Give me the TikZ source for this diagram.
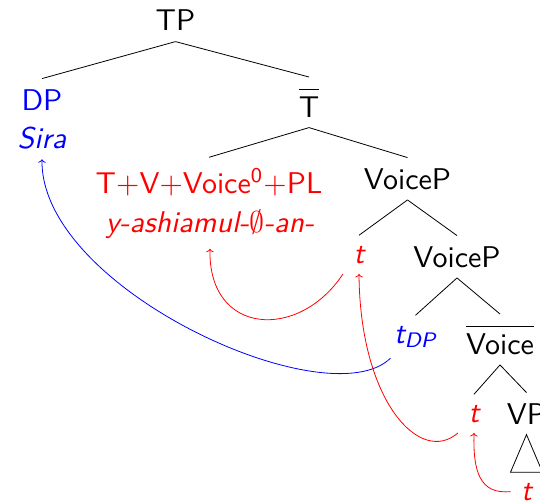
\RequirePackage{fix-cm}
\documentclass[tikz,border=0pt]{standalone}
\usetikzlibrary{arrows.meta}
\begin{document}
\begin{tikzpicture}[x=1pt,y=-1pt,
  lab/.style={anchor=base,scale=3,transform shape,inner sep=0.3333em,font=\fontsize{10}{12}\selectfont\sffamily},
  edge/.style={draw=black,line width=0.8pt},
  bmove/.style={draw=blue,line width=0.8pt,-{To[length=3.5pt,width=7.5pt]}},
  rmove/.style={draw=red,line width=0.8pt,-{To[length=3.5pt,width=7.5pt]}}]
\useasboundingbox (0,0) rectangle (540,503);
\clip (0,0) rectangle (540,503);
% nodes
\node[lab] (TP) at (175.5,31) {TP};
\node[lab,text=blue] (DP) at (42,110) {DP};
\node[lab,text=blue] (Sira) at (42,148) {\itshape Sira};
\node[lab] (Tbar) at (309,117) {\(\overline{\mbox{\rule{0pt}{7.8pt}T}}\)};
\node[lab,text=red] (TV) at (209,193) {T+V+Voice\textsuperscript{0}+PL};
\node[lab,text=red] (yash) at (210,232) {\itshape y-ashiamul-\(\emptyset\)-an-};
\node[lab] (VP1) at (407.5,189) {VoiceP};
\node[lab,text=red] (t1) at (359,263) {\itshape t};
\node[lab] (VP2) at (457,267) {VoiceP};
\node[lab,text=blue] (tdp) at (415.5,343) {\itshape t\textsubscript{DP}};
\node[lab] (Vbar) at (500,354) {\(\overline{\mbox{\rule{0pt}{7.8pt}Voice}}\)};
\node[lab,text=red] (t2) at (474,422) {\itshape t};
\node[lab] (VP) at (526.5,424) {VP};
\node[lab,text=red] (t3) at (526.5,500) {\itshape t};
% tree edges
\draw[edge] (TP.south) -- (DP.north);
\draw[edge] (TP.south) -- (Tbar.north);
\draw[edge] (Tbar.south) -- (TV.north);
\draw[edge] (Tbar.south) -- (VP1.north);
\draw[edge] (VP1.south) -- (t1.north);
\draw[edge] (VP1.south) -- (VP2.north);
\draw[edge] (VP2.south) -- (tdp.north);
\draw[edge] (VP2.south) -- (Vbar.north);
\draw[edge] (Vbar.south) -- (t2.north);
\draw[edge] (Vbar.south) -- (VP.north);
\draw[edge] (VP.south) -- (t3.north west) -- (t3.north east) -- cycle;
% movement arrows
\draw[bmove] ([xshift=7pt]tdp.south west) .. controls +(-62,61) and +(-2,130) .. (Sira.south);
\draw[rmove] (t1.south west) .. controls +(-44,67) and +(-2,87) .. (yash.south);
\draw[rmove] (t2.south west) .. controls +(-38,33) and +(1,127) .. (t1.south);
\draw[rmove] (t3.west) .. controls +(-31,3) and +(-1,38) .. (t2.south);
\end{tikzpicture}
\end{document}
